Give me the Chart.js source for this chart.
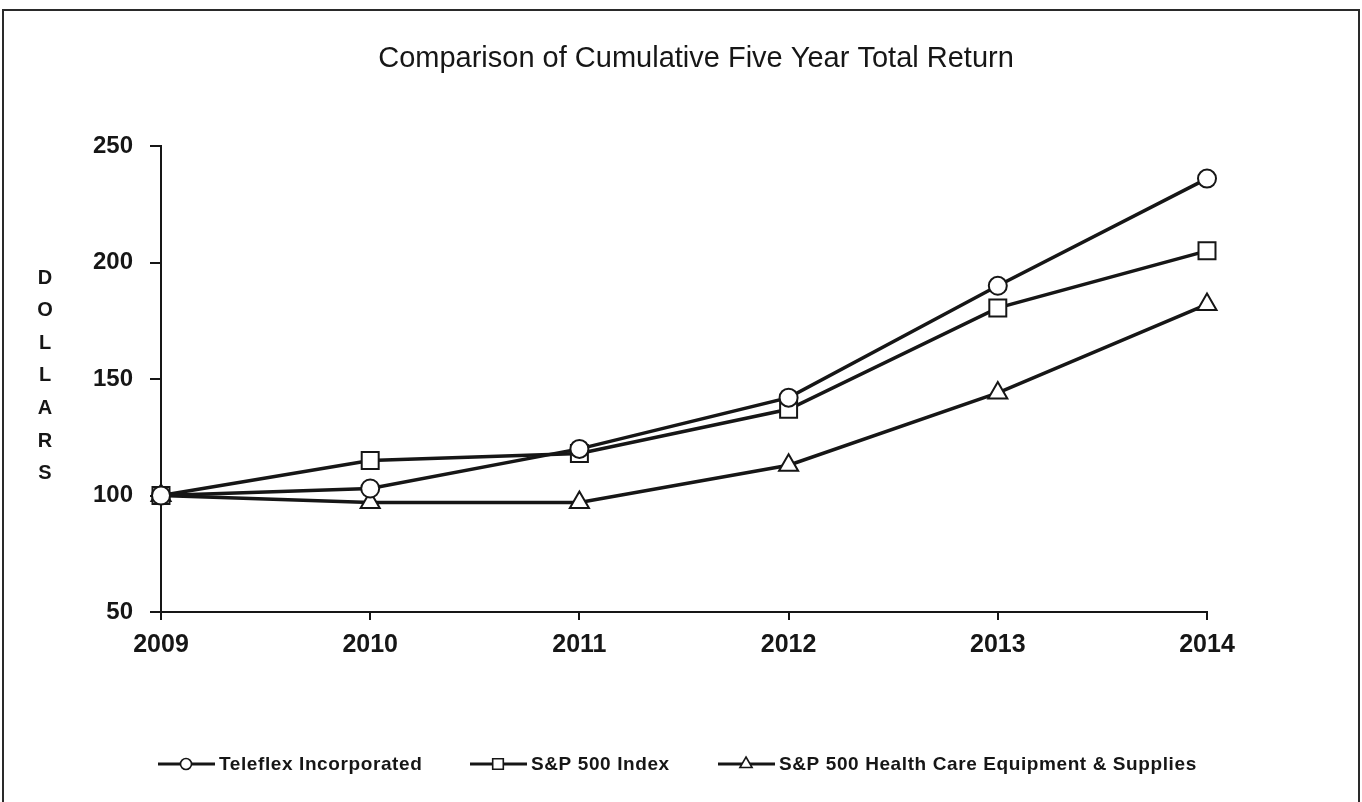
<!DOCTYPE html>
<html>
<head>
<meta charset="utf-8">
<script src="https://cdn.jsdelivr.net/npm/chart.js@4.4.1/dist/chart.umd.min.js"></script>
<style>
    html, body { margin: 0; padding: 0; background: #ffffff; }
    canvas { display: block; }
</style>
</head>
<body>
<canvas id="returnChart" width="1362" height="802"></canvas>
<script>
// ---------------------------------------------------------------------------
// Data
// ---------------------------------------------------------------------------
const years = ['2009', '2010', '2011', '2012', '2013', '2014'];
const teleflex = [100, 103, 120, 142, 190, 236];
const sp500 = [100, 115, 118, 137, 180.5, 205];
const healthCare = [100, 97, 97, 113, 144, 182];
const seriesNames = ['Teleflex Incorporated', 'S&P 500 Index', 'S&P 500 Health Care Equipment & Supplies'];
const yTicks = [50, 100, 150, 200, 250];
const titleText = 'Comparison of Cumulative Five Year Total Return';
const axisLetters = ['D', 'O', 'L', 'L', 'A', 'R', 'S'];

const INK = '#161616';
const FONT = "'Liberation Sans', Arial, sans-serif";

/**
 * Build a dataset with the reference's black line + hollow marker styling
 */
function makeSeries(label, data, pointStyle, radius) {
    return {
        label,
        data,
        borderColor: INK,
        borderWidth: 3.5,
        tension: 0,
        fill: false,
        clip: false,
        pointStyle,
        pointRadius: radius,
        pointHoverRadius: radius,
        pointBorderWidth: 2,
        pointBorderColor: INK,
        pointBackgroundColor: '#ffffff'
    };
}

// Frame, title, stacked axis caption and line-marker legend
const decorPlugin = {
    id: 'decor',
    afterDraw(chart) {
        const ctx = chart.ctx;
        ctx.save();

        // outer frame (bottom edge falls outside the picture)
        ctx.strokeStyle = '#2a2a2a';
        ctx.lineWidth = 2;
        ctx.beginPath();
        ctx.moveTo(3, 810);
        ctx.lineTo(3, 10);
        ctx.lineTo(1359, 10);
        ctx.lineTo(1359, 810);
        ctx.stroke();

        ctx.fillStyle = INK;
        ctx.textAlign = 'center';
        ctx.textBaseline = 'middle';

        // title
        ctx.font = `29px ${FONT}`;
        ctx.fillText(titleText, 696, 59);

        // vertical "DOLLARS"
        ctx.font = `bold 20px ${FONT}`;
        axisLetters.forEach((ch, i) => ctx.fillText(ch, 45, 278 + i * 32.6));

        // legend
        const legendX = [158, 470, 718];
        const legendY = 764;
        const markerR = [5.5, 7.5, 7];
        ctx.font = `bold 19px ${FONT}`;
        ctx.letterSpacing = '0.6px';
        ctx.textAlign = 'left';
        chart.data.datasets.forEach((ds, i) => {
            const x0 = legendX[i];
            ctx.strokeStyle = INK;
            ctx.lineWidth = 3;
            ctx.beginPath();
            ctx.moveTo(x0, legendY);
            ctx.lineTo(x0 + 57, legendY);
            ctx.stroke();
            ctx.fillStyle = '#ffffff';
            ctx.strokeStyle = INK;
            ctx.lineWidth = 1.6;
            Chart.helpers.drawPoint(ctx, {
                pointStyle: ds.pointStyle,
                radius: markerR[i],
                rotation: 0,
                borderWidth: 1.6
            }, x0 + 28, legendY);
            ctx.fillStyle = INK;
            ctx.fillText(seriesNames[i], x0 + 61, legendY + 1);
        });

        ctx.restore();
    }
};

new Chart(document.getElementById('returnChart'), {
    type: 'line',
    data: {
        labels: years,
        datasets: [
            makeSeries(seriesNames[0], teleflex, 'circle', 9),
            makeSeries(seriesNames[1], sp500, 'rect', 12),
            makeSeries(seriesNames[2], healthCare, 'triangle', 11)
        ]
    },
    options: {
        responsive: false,
        animation: false,
        devicePixelRatio: 1,
        layout: {
            padding: { top: 146, right: 155, left: 0, bottom: 0 }
        },
        plugins: {
            legend: { display: false },
            title: { display: false },
            tooltip: { enabled: false }
        },
        scales: {
            x: {
                offset: false,
                grid: {
                    drawOnChartArea: false,
                    color: INK,
                    lineWidth: 2,
                    tickLength: 8
                },
                border: { color: INK, width: 2 },
                ticks: {
                    color: INK,
                    padding: 10,
                    maxRotation: 0,
                    font: { family: FONT, size: 25, weight: 'bold' }
                },
                afterFit(scale) { scale.height = 190; }
            },
            y: {
                min: 50,
                max: 250,
                grid: {
                    drawOnChartArea: false,
                    color: INK,
                    lineWidth: 2,
                    tickLength: 11
                },
                border: { color: INK, width: 2 },
                ticks: {
                    color: INK,
                    padding: 17,
                    font: { family: FONT, size: 24, weight: 'bold' }
                },
                afterBuildTicks(scale) {
                    scale.ticks = yTicks.map(v => ({ value: v }));
                },
                afterFit(scale) { scale.width = 161; }
            }
        }
    },
    plugins: [decorPlugin]
});
</script>
</body>
</html>
